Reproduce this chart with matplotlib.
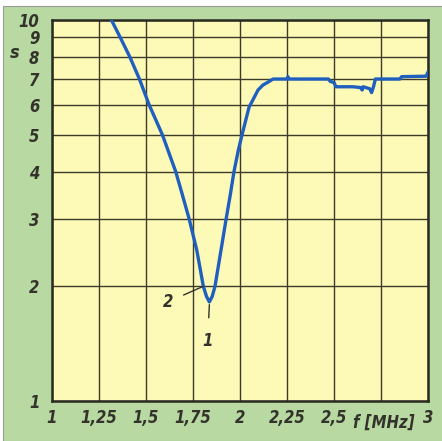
import matplotlib
matplotlib.use('Agg')
import matplotlib.pyplot as plt
from matplotlib.patches import Rectangle

freq = [1.316, 1.363, 1.414, 1.465, 1.516, 1.587, 1.658, 1.694, 1.73, 1.77,
        1.805, 1.822, 1.837, 1.852, 1.867, 1.899, 1.926, 1.948, 1.968, 1.991, 2.011,
        2.048, 2.096, 2.122, 2.149, 2.176, 2.25, 2.255, 2.26, 2.47, 2.48, 2.5,
        2.51, 2.6, 2.64, 2.65, 2.655, 2.69, 2.70, 2.71, 2.72, 2.85, 2.86, 2.99, 3.0]
swr = [10.0, 9.0, 8.0, 7.0, 6.0, 5.0, 4.0, 3.47, 3.0, 2.49,
       2.0, 1.88, 1.82, 1.88, 2.0, 2.49, 3.0, 3.47, 4.0, 4.55, 5.0,
       5.9, 6.55, 6.75, 6.87, 7.0, 7.0, 7.1, 7.0, 7.0, 6.9, 6.85,
       6.68, 6.68, 6.65, 6.55, 6.68, 6.6, 6.45, 6.68, 7.0, 7.0, 7.1, 7.12, 7.3]

x_ticks = [1, 1.25, 1.5, 1.75, 2, 2.25, 2.5, 2.75, 3]
x_labels = ['1', '1,25', '1,5', '1,75', '2', '2,25', '2,5', '', '3']
y_ticks = [1, 2, 3, 4, 5, 6, 7, 8, 9, 10]
y_labels = [str(v) for v in y_ticks]

green = '#b8daa2'
paper = '#fdf9b6'
ink = '#33332c'
blue = '#1f5fc0'
txt = dict(family='DejaVu Sans', stretch='condensed', style='italic', weight='bold', color=ink)

fig = plt.figure(figsize=(4.42, 4.41), dpi=100)
fig.patch.set_facecolor('white')
fig.patches.append(Rectangle((3 / 442, 0), 1, 1 - 6 / 441, transform=fig.transFigure,
                             facecolor=green, edgecolor='#9a9a9a', linewidth=0.8, zorder=-10))

ax = fig.add_axes([52 / 442, 1 - 401 / 441, 376 / 442, 381 / 441])
ax.set_facecolor(paper)
ax.set_yscale('log')
ax.set_xlim(1, 3)
ax.set_ylim(1, 10)

ax.set_xticks(x_ticks)
ax.set_xticklabels(x_labels)
ax.set_yticks(y_ticks)
ax.set_yticklabels(y_labels)
ax.minorticks_off()
ax.tick_params(length=0, colors=ink, labelsize=12)
ax.tick_params(axis='x', pad=6)
ax.tick_params(axis='y', pad=9)
for lab in ax.get_xticklabels() + ax.get_yticklabels():
    lab.set_family('DejaVu Sans')
    lab.set_stretch('condensed')
    lab.set_style('italic')
    lab.set_weight('bold')

ax.grid(True, color='#3c3a28', linewidth=1.0)
ax.set_axisbelow(True)
for sp in ax.spines.values():
    sp.set_color('#2a2a22')
    sp.set_linewidth(1.8)

ax.plot(freq, swr, color=blue, linewidth=2.4, solid_joinstyle='round', zorder=3)

# leader lines / markers
ax.annotate('2', xy=(1.805, 2.0), xytext=(1.617, 1.82), fontsize=12, ha='center', va='center',
            arrowprops=dict(arrowstyle='-', color=ink, lw=1.0, shrinkA=6, shrinkB=0), **txt)
ax.annotate('1', xy=(1.837, 1.79), xytext=(1.828, 1.44), fontsize=12, ha='center', va='center',
            arrowprops=dict(arrowstyle='-', color=ink, lw=1.0, shrinkA=8, shrinkB=0), **txt)

fig.text(15 / 442, 1 - 53 / 441, 's', fontsize=13, ha='center', va='center', **txt)
fig.text(384 / 442, 1 - 423 / 441, 'f [MHz]', fontsize=12, ha='center', va='center', **txt)

fig.savefig('out.png', dpi=100, facecolor=fig.get_facecolor())
